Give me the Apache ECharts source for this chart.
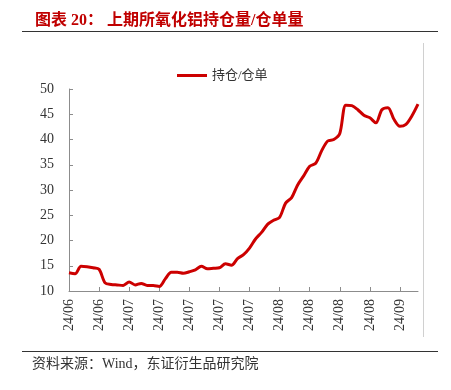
<!DOCTYPE html>
<html>
<head>
<meta charset="utf-8">
<script src="https://cdn.jsdelivr.net/npm/echarts@6/dist/echarts.min.js"></script>
<style>
html,body{margin:0;padding:0;background:#fff;}
#c{width:451px;height:390px;}
</style>
</head>
<body>
<div id="c"></div>
<script>
var dates = [
  '2024-06-17','2024-06-18','2024-06-19','2024-06-20','2024-06-21',
  '2024-06-24','2024-06-25','2024-06-26','2024-06-27','2024-06-28',
  '2024-07-01','2024-07-02','2024-07-03','2024-07-04','2024-07-05',
  '2024-07-08','2024-07-09','2024-07-10','2024-07-11','2024-07-12',
  '2024-07-15','2024-07-16','2024-07-17','2024-07-18','2024-07-19',
  '2024-07-22','2024-07-23','2024-07-24','2024-07-25','2024-07-26',
  '2024-07-29','2024-07-30','2024-07-31','2024-08-01','2024-08-02',
  '2024-08-05','2024-08-06','2024-08-07','2024-08-08','2024-08-09',
  '2024-08-12','2024-08-13','2024-08-14','2024-08-15','2024-08-16',
  '2024-08-19','2024-08-20','2024-08-21','2024-08-22','2024-08-23',
  '2024-08-26','2024-08-27','2024-08-28','2024-08-29','2024-08-30',
  '2024-09-02','2024-09-03','2024-09-04','2024-09-05'
];
var ratio = [
  13.6, 13.4, 14.9, 14.8, 14.6, 14.3, 11.6, 11.3, 11.2, 11.1,
  11.8, 11.2, 11.5, 11.1, 11.1, 10.9, 12.4, 13.7, 13.7, 13.5,
  13.8, 14.2, 14.9, 14.4, 14.5, 14.6, 15.4, 15.1, 16.4, 17.2,
  18.5, 20.3, 21.6, 23.2, 24.0, 24.6, 27.4, 28.5, 31.0, 32.8,
  34.7, 35.3, 37.8, 39.7, 40.0, 41.2, 46.8, 46.7, 45.9, 44.8,
  44.3, 43.3, 45.9, 46.3, 44.0, 42.6, 43.0, 44.7, 47.0
];
var seriesName = '持仓/仓单';
var yTicks = {min: 10, max: 50, interval: 5};

var serif = '"Liberation Serif","Times New Roman","Noto Sans CJK SC",serif';
var chart = echarts.init(document.getElementById('c'));
chart.setOption({
  animation: false,
  title: {
    text: '图表 20： 上期所氧化铝持仓量/仓单量',
    left: 30, top: 8,
    textStyle: {color: '#C00000', fontSize: 16, fontWeight: 'bold', fontFamily: serif}
  },
  legend: {
    left: 172, top: 64,
    itemWidth: 30, itemHeight: 12, itemGap: 4,
    icon: 'path://M0,0 L30,0 L30,3 L0,3 Z',
    textStyle: {fontSize: 13, color: '#333', fontFamily: serif},
    data: [seriesName]
  },
  grid: {left: 69, right: 33, top: 89, bottom: 99},
  xAxis: {
    type: 'category',
    data: dates,
    boundaryGap: false,
    axisLine: {lineStyle: {color: '#8c8c8c', width: 1}},
    axisTick: {inside: true, length: 4, interval: 4, lineStyle: {color: '#8c8c8c'}},
    axisLabel: {
      interval: 4, rotate: 90, margin: 8,
      fontSize: 14, color: '#333', fontFamily: serif,
      formatter: function (v) { return v.slice(2, 4) + '/' + v.slice(5, 7); }
    },
    splitLine: {show: false}
  },
  yAxis: {
    type: 'value',
    min: yTicks.min, max: yTicks.max, interval: yTicks.interval,
    axisLine: {show: true, lineStyle: {color: '#8c8c8c', width: 1}},
    axisTick: {show: true, inside: true, length: 4, lineStyle: {color: '#8c8c8c'}},
    axisLabel: {fontSize: 14, color: '#333', fontFamily: serif, margin: 15},
    splitLine: {show: false}
  },
  series: [{
    name: seriesName,
    type: 'line',
    data: ratio,
    smooth: 0.3,
    showSymbol: false,
    symbol: 'none',
    lineStyle: {color: '#CC0000', width: 3},
    itemStyle: {color: '#CC0000'}
  }],
  graphic: [
    {type: 'line', shape: {x1: 22, y1: 31.5, x2: 438, y2: 31.5}, style: {stroke: '#333', lineWidth: 1}},
    {type: 'line', shape: {x1: 22, y1: 351.5, x2: 438, y2: 351.5}, style: {stroke: '#333', lineWidth: 1}},
    {type: 'line', shape: {x1: 423.5, y1: 43, x2: 423.5, y2: 337}, style: {stroke: '#d0d0d0', lineWidth: 1}},
    {type: 'text', left: 32, top: 357, style: {text: '资料来源：Wind，东证衍生品研究院', fontSize: 14, fill: '#333', fontFamily: serif}}
  ]
});
</script>
</body>
</html>
